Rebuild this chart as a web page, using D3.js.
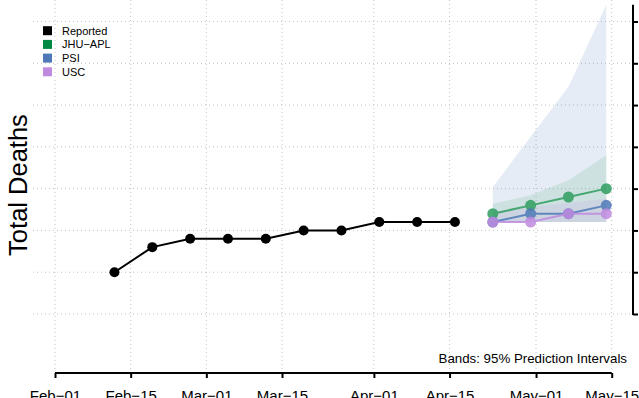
<!DOCTYPE html>
<html>
<head>
<meta charset="utf-8">
<script src="https://cdn.jsdelivr.net/npm/d3@7"></script>
<style>
  body { margin: 0; background: #fff; }
  svg { display: block; font-family: "Liberation Sans", Arial, sans-serif; }
</style>
</head>
<body>
<div id="chart"></div>
<script>
// reported weekly totals
const reportedDates = ["2021-02-12", "2021-02-19", "2021-02-26", "2021-03-05", "2021-03-12",
                       "2021-03-19", "2021-03-26", "2021-04-02", "2021-04-09", "2021-04-16"];
const reportedDeaths = [5, 8, 9, 9, 9, 10, 10, 11, 11, 11];

// forecasts
const forecastDates = ["2021-04-23", "2021-04-30", "2021-05-07", "2021-05-14"];
const jhuMid = [12, 13, 14, 15];
const jhuLo  = [11, 11, 11, 11];
const jhuHi  = [13.2, 14.2, 16, 19];
const psiMid = [11, 12, 12, 13];
const psiLo  = [11, 11, 11, 11];
const psiHi  = [15.2, 21.2, 27.2, 37];
const uscMid = [11, 11, 12, 12];
const uscLo  = [11, 11, 11, 11];
const uscHi  = [12.2, 12.8, 13.3, 13.8];

const xTickDates = ["2021-02-01", "2021-02-15", "2021-03-01", "2021-03-15",
                    "2021-04-01", "2021-04-15", "2021-05-01", "2021-05-15"];
const yTicks = [0, 5, 10, 15, 20, 25, 30, 35];

const parse = d3.timeParse("%Y-%m-%d");
const fmt = d3.timeFormat("%b\u2212%d");

const width = 639, height = 398;
const svg = d3.select("#chart").append("svg")
    .attr("width", width)
    .attr("height", height);

const x = d3.scaleUtc()
    .domain([parse("2021-02-01"), parse("2021-05-15")])
    .range([55, 611.7]);
const y = d3.scaleLinear()
    .domain([0, 35])
    .range([314, 21.5]);

// grid
const grid = svg.append("g")
    .attr("stroke", "#c4c4c4")
    .attr("stroke-dasharray", "1,3");
grid.selectAll("line.h")
    .data(yTicks)
    .join("line")
    .attr("class", "h")
    .attr("x1", 33).attr("x2", 633)
    .attr("y1", d => y(d)).attr("y2", d => y(d));
grid.selectAll("line.v")
    .data(xTickDates)
    .join("line")
    .attr("class", "v")
    .attr("x1", d => x(parse(d))).attr("x2", d => x(parse(d)))
    .attr("y1", 0).attr("y2", 372);

// bands
const series = [
    {name: "JHU-APL", color: "#2e9e5e", mid: jhuMid, lo: jhuLo, hi: jhuHi, band: 0.13},
    {name: "PSI", color: "#4e79b8", mid: psiMid, lo: psiLo, hi: psiHi, band: 0.14},
    {name: "USC", color: "#c08ae0", mid: uscMid, lo: uscLo, hi: uscHi, band: 0.14}
];
const bandOrder = [series[1], series[0], series[2]];

const area = d3.area()
    .x(d => x(d.date))
    .y0(d => y(d.lo))
    .y1(d => y(d.hi));

bandOrder.forEach(s => {
    const rows = forecastDates.map((d, i) => ({date: parse(d), lo: s.lo[i], hi: s.hi[i]}));
    svg.append("path")
        .datum(rows)
        .attr("fill", s.color)
        .attr("fill-opacity", s.band)
        .attr("d", area);
});

// reported
const line = d3.line()
    .x(d => x(d.date))
    .y(d => y(d.v));

const rep = reportedDates.map((d, i) => ({date: parse(d), v: reportedDeaths[i]}));
svg.append("path")
    .datum(rep)
    .attr("fill", "none")
    .attr("stroke", "#000")
    .attr("stroke-width", 2)
    .attr("d", line);
svg.append("g")
    .selectAll("circle")
    .data(rep)
    .join("circle")
    .attr("cx", d => x(d.date))
    .attr("cy", d => y(d.v))
    .attr("r", 5)
    .attr("fill", "#000");

// forecast lines
series.forEach(s => {
    const rows = forecastDates.map((d, i) => ({date: parse(d), v: s.mid[i]}));
    const g = svg.append("g").attr("opacity", 0.85);
    g.append("path")
        .datum(rows)
        .attr("fill", "none")
        .attr("stroke", s.color)
        .attr("stroke-width", 2)
        .attr("d", line);
    g.selectAll("circle")
        .data(rows)
        .join("circle")
        .attr("cx", d => x(d.date))
        .attr("cy", d => y(d.v))
        .attr("r", 5.5)
        .attr("fill", s.color);
});

// x axis
const xAxis = svg.append("g")
    .attr("transform", "translate(0,373)")
    .call(d3.axisBottom(x)
        .tickValues(xTickDates.map(parse))
        .tickFormat(fmt)
        .tickSize(5)
        .tickPadding(12));
xAxis.select(".domain").attr("d", `M${x(parse(xTickDates[0]))},0H${x(parse(xTickDates[xTickDates.length - 1]))}`)
    .attr("stroke-width", 2);
xAxis.selectAll(".tick line").attr("stroke-width", 2);
xAxis.selectAll(".tick text")
    .attr("font-size", 15)
    .attr("fill", "#000")
    .attr("font-family", "Liberation Sans, Arial, sans-serif");

// right y axis (labels fall outside the picture)
const yAxis = svg.append("g")
    .attr("transform", "translate(633,0)")
    .call(d3.axisRight(y)
        .tickValues(yTicks)
        .tickSize(5)
        .tickFormat(""));
yAxis.select(".domain").attr("d", `M0,${y(0) + 1}V${y(37)}`).attr("stroke-width", 2);
yAxis.selectAll(".tick line").attr("stroke-width", 2);

// y label
svg.append("text")
    .attr("transform", "translate(27,185) rotate(-90)")
    .attr("text-anchor", "middle")
    .attr("font-size", 25.5)
    .attr("fill", "#000")
    .text("Total Deaths");

// note
svg.append("text")
    .attr("x", 627)
    .attr("y", 363)
    .attr("text-anchor", "end")
    .attr("font-size", 13.3)
    .attr("fill", "#000")
    .text("Bands: 95% Prediction Intervals");

// legend
const legendNames = ["Reported", "JHU\u2212APL", "PSI", "USC"];
const legendColors = ["#000000", "#008a44", "#4f78b8", "#c08ae0"];
const leg = svg.append("g")
    .selectAll("g")
    .data(legendNames)
    .join("g")
    .attr("transform", (d, i) => `translate(43,${30.7 + i * 13.7})`);
leg.append("rect")
    .attr("x", 0).attr("y", -4.5)
    .attr("width", 9).attr("height", 9)
    .attr("fill", (d, i) => legendColors[i]);
leg.append("text")
    .attr("x", 19)
    .attr("y", 4)
    .attr("font-size", 11)
    .attr("fill", "#000")
    .text(d => d);
</script>
</body>
</html>
